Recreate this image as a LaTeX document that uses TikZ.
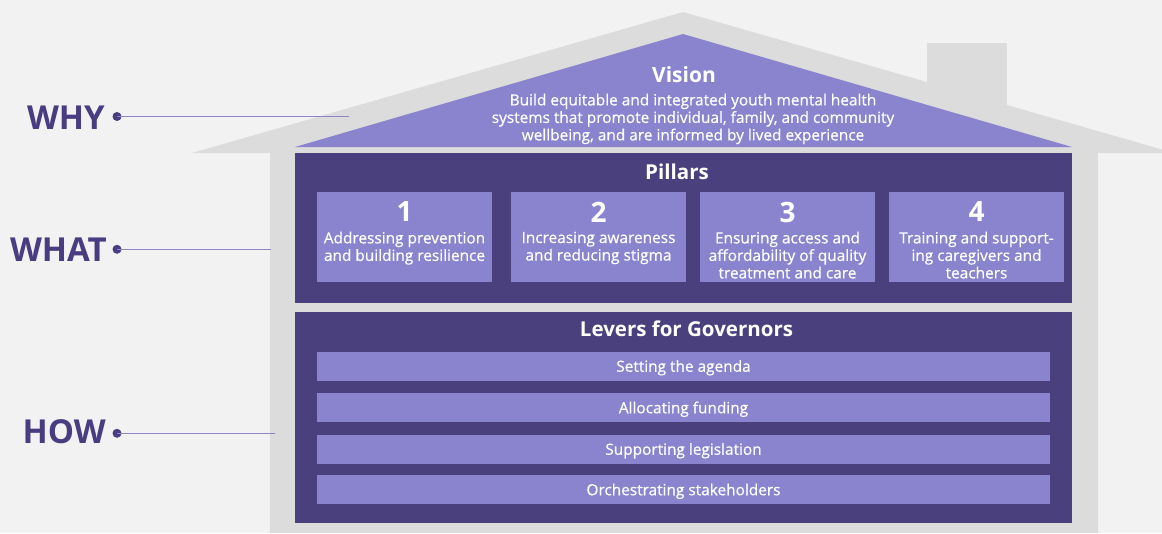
\documentclass[tikz,border=0pt]{standalone}
\usepackage{fontspec}
\setmainfont{Open Sans}
\newfontface\semib{Open Sans}[FakeBold=0.5]
\usetikzlibrary{calc}
\definecolor{bgc}{HTML}{F2F2F2}
\definecolor{housec}{HTML}{DCDCDC}
\definecolor{dpurple}{HTML}{4A407E}
\definecolor{lpurple}{HTML}{8A84CF}
\definecolor{labelc}{HTML}{4A3C80}
\definecolor{linec}{HTML}{8D86C2}
\begin{document}
\begin{tikzpicture}[x=1pt,y=-1pt,
  darkbox/.style={fill=dpurple,draw=none},
  pbox/.style={fill=lpurple,draw=none,minimum width=175pt,minimum height=90pt,inner sep=0pt},
  pnum/.style={font=\fontsize{28}{28}\selectfont\bfseries,text=white,inner sep=0pt},
  ptext/.style={font=\semib\fontsize{15.4}{17.5}\selectfont,align=center,text=white,inner sep=0pt,anchor=north},
  head/.style={font=\fontsize{20.5}{20.5}\selectfont\bfseries,text=white,inner sep=0pt},
  bar/.style={fill=lpurple,draw=none,minimum width=733pt,minimum height=29pt,inner sep=0pt,
    font=\semib\fontsize{15.4}{17}\selectfont,text=white,text height=11.5pt,text depth=0pt},
  side/.style={font=\fontsize{33}{33}\selectfont\bfseries,text=labelc,inner sep=0pt,anchor=base east},
  sdot/.style={circle,fill=labelc,draw=none,minimum size=9pt,inner sep=0pt},
  conn/.style={draw=linec,line width=1.2pt}]
\useasboundingbox (0,0) rectangle (1162,533);
\fill[bgc] (0,0) rectangle (1162,533);
% house
\fill[housec] (927,43) rectangle (1007,120);
\fill[housec] (683,12) -- (192,153) -- (1162,153) -- (1162,149.5) -- cycle;
\fill[housec] (270,153) rectangle (1098,533);
\fill[lpurple] (683,34) -- (295,147) -- (1072,147) -- cycle;
\fill[dpurple] (295,153) rectangle (1072,303);
\fill[dpurple] (295,312) rectangle (1072,523);
% vision
\node[font=\fontsize{21}{21}\selectfont\bfseries,text=white,inner sep=0pt] (vtitle) at (684,74.5) {Vision};
\node[ptext] (vtext) at (693,93.5) {Build equitable and integrated youth mental health\\systems that promote individual, family, and community\\wellbeing, and are informed by lived experience};
% pillars
\node[head] (ptitle) at (677,171.5) {Pillars};
\node[pbox] (p1) at (404.5,237) {};
\node[pbox] (p2) at (598.5,237) {};
\node[pbox] (p3) at (787.5,237) {};
\node[pbox] (p4) at (976.5,237) {};
\node[pnum] (p1n) at (404.5,212) {1};
\node[pnum] (p2n) at (598.5,212) {2};
\node[pnum] (p3n) at (787.5,212) {3};
\node[pnum] (p4n) at (976.5,212) {4};
\node[ptext] (p1t) at (404.5,231.5) {Addressing prevention\\and building resilience};
\node[ptext] (p2t) at (598.5,231.5) {Increasing awareness\\and reducing stigma};
\node[ptext] (p3t) at (787.5,231.5) {Ensuring access and\\affordability of quality\\treatment and care};
\node[ptext] (p4t) at (976.5,231.5) {Training and support-\\ing caregivers and\\teachers};
% levers
\node[head] (ltitle) at (686.5,328.5) {Levers for Governors};
\node[bar] (l1) at (683.5,366) {Setting the agenda};
\node[bar] (l2) at (683.5,407.5) {Allocating funding};
\node[bar] (l3) at (683.5,449) {Supporting legislation};
\node[bar] (l4) at (683.5,489.5) {Orchestrating stakeholders};
% side labels
\node[side] (why) at (105,129) {WHY};
\node[side] (what) at (107,261) {WHAT};
\node[side] (how) at (106,443) {HOW};
\coordinate (whye) at (349,116.5);
\coordinate (whate) at (271,249.3);
\coordinate (howe) at (275,433.3);
\node[sdot] (whyd) at (117,116.5) {};
\node[sdot] (whatd) at (117,249.3) {};
\node[sdot] (howd) at (117,433.3) {};
\draw[conn] (whyd.center) -- (whye);
\draw[conn] (whatd.center) -- (whate);
\draw[conn] (howd.center) -- (howe);
\end{tikzpicture}
\end{document}
